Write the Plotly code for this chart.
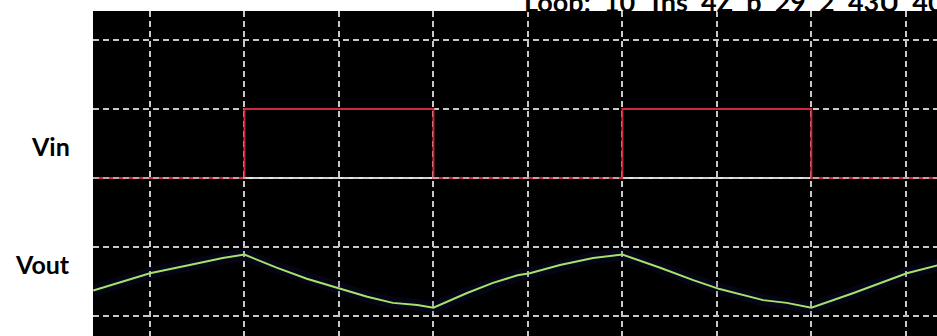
import plotly.graph_objects as go

# Time axis in divisions (one grid square = 1), voltage axis in divisions
t_in = [-0.6, 1.0, 1.0, 3.0, 3.0, 5.0, 5.0, 7.0, 7.0, 8.35]
v_in = [2.0, 2.0, 3.0, 3.0, 2.0, 2.0, 3.0, 3.0, 2.0, 2.0]

t_ref = [-0.6, 8.35]
v_ref = [2.0, 2.0]

t_out = [-0.6, 0.0, 0.42, 0.77, 1.0, 1.34, 1.66, 1.99, 2.3, 2.57, 2.83, 3.0,
         3.35, 3.63, 3.89, 4.02, 4.34, 4.69, 5.0, 5.4, 5.75, 6.03, 6.49, 6.74,
         7.0, 7.44, 8.01, 8.35]
v_out = [0.37, 0.62, 0.74, 0.84, 0.89, 0.70, 0.54, 0.41, 0.28, 0.19, 0.16, 0.12,
         0.33, 0.48, 0.59, 0.62, 0.74, 0.84, 0.89, 0.70, 0.52, 0.39, 0.23, 0.19,
         0.12, 0.33, 0.62, 0.74]

channel_labels = ["Vin", "Vout"]
channel_levels = [2.46, 0.76]
header_words = ["Loop:", "10", "Tns", "4Z", "p", "29", "2", "43U", "40"]

X_RANGE = [-0.603, 8.33]
Y_RANGE = [-0.29, 4.42]
GRID = dict(color="#c8c8c8", width=1.5, dash="6px,4px")

fig = go.Figure()

# reference (ground) trace under the input
fig.add_trace(go.Scatter(x=t_ref, y=v_ref, mode="lines",
                         line=dict(color="#e8e8e8", width=2), hoverinfo="skip"))
# input square wave
fig.add_trace(go.Scatter(x=t_in, y=v_in, mode="lines",
                         line=dict(color="#cc2a3c", width=2), hoverinfo="skip"))
# faint glow under the output trace
fig.add_trace(go.Scatter(x=t_out, y=v_out, mode="lines",
                         line=dict(color="rgba(30,30,120,0.18)", width=12),
                         hoverinfo="skip"))
# output RC response
fig.add_trace(go.Scatter(x=t_out, y=v_out, mode="lines",
                         line=dict(color="#a6e36a", width=2), hoverinfo="skip"))

# the graticule line on the input baseline shows over the trace
fig.add_shape(type="line", xref="paper", yref="y", x0=0, x1=1, y0=2, y1=2,
              line=GRID, layer="above")

for name, lvl in zip(channel_labels, channel_levels):
    fig.add_annotation(x=0, xref="paper", xanchor="right", xshift=-21,
                       y=lvl, yref="y", yanchor="middle", text="<b>" + name + "</b>",
                       showarrow=False,
                       font=dict(family="Lato", size=25, color="#000000"))

# status line running off the top edge
fig.add_annotation(x=(522 - 93) / 844, xref="paper", xanchor="left",
                   y=1, yref="paper", yanchor="bottom", yshift=-9,
                   text="<b>" + "&nbsp;&nbsp;".join(header_words) + "</b>",
                   showarrow=False,
                   font=dict(family="Lato", size=27, color="#000000"))

fig.update_xaxes(range=X_RANGE, showgrid=True, gridcolor=GRID["color"],
                 gridwidth=GRID["width"], griddash=GRID["dash"],
                 tick0=0, dtick=1, zeroline=False,
                 showticklabels=False, ticks="", showline=False)
fig.update_yaxes(range=Y_RANGE, showgrid=True, gridcolor=GRID["color"],
                 gridwidth=GRID["width"], griddash=GRID["dash"],
                 tick0=0, dtick=1, zeroline=False,
                 showticklabels=False, ticks="", showline=False)
fig.update_layout(width=937, height=336, margin=dict(l=93, r=0, t=11, b=0),
                  plot_bgcolor="#000000", paper_bgcolor="#ffffff",
                  showlegend=False)

fig.write_html("out.html", config={"displayModeBar": False})
